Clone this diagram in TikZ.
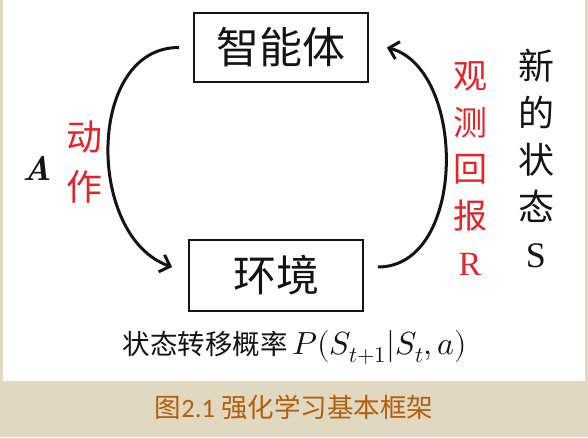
\documentclass[tikz,border=0pt]{standalone}
\usepackage{fontspec}
\usepackage{unicode-math}
\usepackage{tikz}
\usetikzlibrary{arrows.meta,positioning}
\setmathfont{Latin Modern Math}
\newfontfamily\cjk{Noto Sans CJK SC}
\newfontfamily\capnum{Carlito}
\newfontfamily\serifnum{Liberation Serif}
\definecolor{ink}{HTML}{141414}
\definecolor{accent}{HTML}{E0262C}
\definecolor{paper}{HTML}{E0D8C0}
\definecolor{capbrown}{HTML}{B25F0C}
\tikzset{box/.style={draw=ink,line width=1.8pt,minimum width=174pt,minimum height=69pt,
  inner sep=0pt,text=ink,font=\cjk\fontsize{43}{43}\selectfont},
  arrow/.style={-{Straight Barb[length=9pt,width=18pt]},line width=3pt,draw=ink},
  sidetext/.style={align=center,inner sep=0pt,text=accent}}

\begin{document}
\begin{tikzpicture}[x=1pt,y=1pt]
\useasboundingbox (0,0) rectangle (588,437);
\fill[paper] (0,0) rectangle (588,437);
\fill[white] (3,56) rectangle (585,437);
\node[box] (agent) at (281,389.5) {智能体};
\node[box,minimum height=71pt] (env) at (276,161.5) {环境};
\draw[arrow] ([xshift=-14pt]agent.west) .. controls (86,390) and (86,200) .. ([xshift=-16pt,yshift=8.5pt]env.west);
\draw[arrow] ([xshift=14pt,yshift=8.5pt]env.east) .. controls (467,170) and (467,368) .. ([xshift=18pt]agent.east);
\node[sidetext,font=\cjk\fontsize{36}{50}\selectfont] (action) at (84,275) {动\\作};
\node[inner sep=0pt,text=ink,font=\fontsize{34}{34}\selectfont\bfseries\itshape,
  left=14pt of action,yshift=-6pt] (symA) {A};
\node[sidetext,font=\cjk\fontsize{34}{46.75}\selectfont] (reward) at (470,268.5)
  {观\\测\\回\\报\\{\serifnum R}};
\node[sidetext,text=ink,font=\cjk\fontsize{36}{47}\selectfont] (newstate) at (536,278.5)
  {新\\的\\状\\态\\{\serifnum S}};
\node[inner sep=0pt,text=ink,font=\cjk\fontsize{27.5}{33}\selectfont] (transition) at (295,90)
  {状态转移概率\,{\fontsize{32}{36}\selectfont$P(S_{t+1}|S_t,a)$}};
\node[inner sep=0pt,text=capbrown,font=\cjk\fontsize{26.5}{30}\selectfont] (caption) at (294,30)
  {图{\capnum 2.1}\hspace{6pt}强化学习基本框架};
\end{tikzpicture}
\end{document}
